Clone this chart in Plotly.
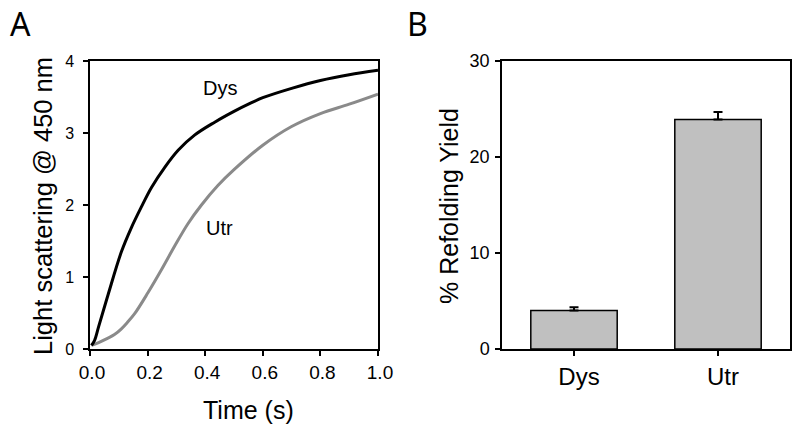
import plotly.graph_objects as go

# Panel A: light scattering traces
dys_t = [0.005, 0.016, 0.03, 0.0625, 0.109, 0.143, 0.178, 0.213, 0.259, 0.306,
         0.363, 0.433, 0.5, 0.55, 0.6, 0.7, 0.8, 0.9, 1.0]
dys_v = [0.05, 0.12, 0.31, 0.75, 1.35, 1.68, 1.97, 2.24, 2.52, 2.76,
         2.97, 3.15, 3.30, 3.40, 3.49, 3.62, 3.73, 3.81, 3.87]
utr_t = [0.005, 0.03, 0.0625, 0.085, 0.109, 0.13, 0.155, 0.201, 0.248, 0.294, 0.34, 0.387,
         0.444, 0.5, 0.6, 0.7, 0.8, 0.9, 1.0]
utr_v = [0.05, 0.09, 0.15, 0.20, 0.28, 0.37, 0.49, 0.78, 1.10, 1.43, 1.74, 2.0,
         2.27, 2.49, 2.83, 3.09, 3.27, 3.40, 3.54]
x_ticks_a = [0.0, 0.2, 0.4, 0.6, 0.8, 1.0]
x_ticklabels_a = ["0.0", "0.2", "0.4", "0.6", "0.8", "1.0"]
y_ticks_a = [0, 1, 2, 3, 4]

# Panel B: refolding yield
categories = ["Dys", "Utr"]
yield_vals = [4.0, 23.9]
yield_err = [0.35, 0.8]
y_ticks_b = [0, 10, 20, 30]

FONT = "Liberation Sans, Arial, sans-serif"
W, H = 800, 433

fig = go.Figure()
fig.add_trace(go.Scatter(x=utr_t, y=utr_v, mode="lines", line=dict(color="#8a8a8a", width=3, shape="spline"),
                         xaxis="x", yaxis="y", showlegend=False))
fig.add_trace(go.Scatter(x=dys_t, y=dys_v, mode="lines", line=dict(color="#000000", width=3, shape="spline"),
                         xaxis="x", yaxis="y", showlegend=False))
fig.add_trace(go.Bar(x=categories, y=yield_vals, width=0.6,
                     marker=dict(color="#c0c0c0", line=dict(color="black", width=1.5)),
                     error_y=dict(type="data", array=yield_err, arrayminus=[0, 0], color="black",
                                  thickness=2, width=4.5),
                     xaxis="x2", yaxis="y2", showlegend=False))

ydom = [1 - 349 / H, 1 - 61 / H]
axis_common = dict(showline=True, linecolor="black", linewidth=1.5, mirror=True, ticks="outside",
                   ticklen=5, tickwidth=1.5, tickcolor="black", showgrid=False, zeroline=False,
                   automargin=False)

fig.update_layout(
    template="none",
    width=W, height=H, margin=dict(l=0, r=0, t=0, b=0, pad=0),
    paper_bgcolor="white", plot_bgcolor="white",
    font=dict(family=FONT, color="black"),
    xaxis=dict(domain=[90 / W, 378 / W], range=[0, 1], tickvals=x_ticks_a, ticktext=x_ticklabels_a,
               tickfont=dict(size=19), anchor="y", ticklabelshift=2, **axis_common),
    yaxis=dict(domain=ydom, range=[0, 4], tickvals=y_ticks_a, tickfont=dict(size=16),
               anchor="x", ticklabelstandoff=6, **axis_common),
    xaxis2=dict(domain=[502 / W, 790 / W], range=[-0.5, 1.5], type="category",
                tickfont=dict(size=24), anchor="y2", ticklabelshift=5, **axis_common),
    yaxis2=dict(domain=ydom, range=[0, 30], tickvals=y_ticks_b, tickfont=dict(size=18),
                anchor="x2", ticklabelstandoff=2, **axis_common),
    annotations=[
        dict(text="A", x=8 / W, y=1 - 23 / H, xref="paper", yref="paper", xanchor="left", yanchor="middle",
             showarrow=False, font=dict(size=32, family="Noto Sans, sans-serif")),
        dict(text="B", x=405 / W, y=1 - 23 / H, xref="paper", yref="paper", xanchor="left", yanchor="middle",
             showarrow=False, font=dict(size=32, family="Noto Sans, sans-serif")),
        dict(text="Light scattering @ 450 nm", x=43 / W, y=1 - 206 / H, xref="paper", yref="paper",
             xanchor="center", yanchor="middle", textangle=-90, showarrow=False, font=dict(size=25.5)),
        dict(text="Time (s)", x=248 / W, y=1 - 410 / H, xref="paper", yref="paper",
             xanchor="center", yanchor="middle", showarrow=False, font=dict(size=25)),
        dict(text="% Refolding Yield", x=449 / W, y=1 - 206 / H, xref="paper", yref="paper",
             xanchor="center", yanchor="middle", textangle=-90, showarrow=False, font=dict(size=25)),
        dict(text="Dys", x=0.451, y=3.625, xref="x", yref="y", showarrow=False, font=dict(size=20)),
        dict(text="Utr", x=0.448, y=1.676, xref="x", yref="y", showarrow=False, font=dict(size=20)),
    ],
)

fig.write_html("out.html", config={"displayModeBar": False},
               post_script="document.body.style.margin='0';document.body.style.overflow='hidden';")
